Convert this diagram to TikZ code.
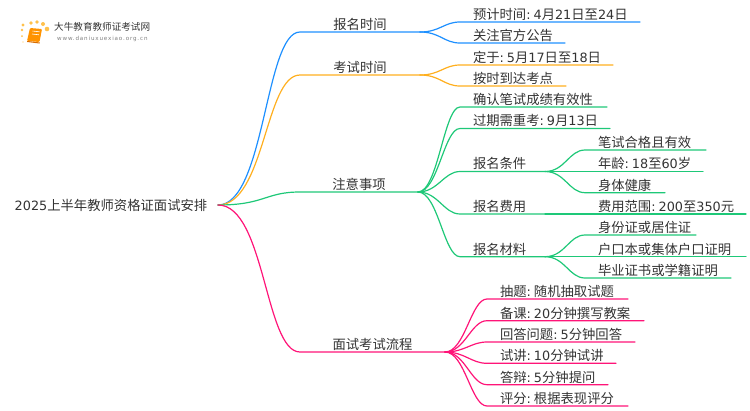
\documentclass[tikz,border=0pt]{standalone}
\usepackage{fontspec}
\setmainfont{Noto Sans CJK SC}
\newfontfamily\latn[Scale=0.96]{DejaVu Sans}
\newfontfamily\urlfont[LetterSpace=15]{DejaVu Sans}
\newcommand\mapcolon{{\latn:\hspace{3pt}}}
\usetikzlibrary{arrows.meta}
\definecolor{mapblue}{RGB}{30,144,255}
\definecolor{maporange}{RGB}{255,175,30}
\definecolor{mapgreen}{RGB}{30,200,120}
\definecolor{mappink}{RGB}{255,20,120}
\definecolor{maptext}{RGB}{51,51,51}
\tikzset{
	mapnode/.style={anchor=south west,inner xsep=0pt,inner ysep=1.5pt,outer sep=0pt,text=maptext,font=\fontsize{13.33}{15}\selectfont,minimum width=#1},
	leaf/.style={mapnode=#1,text width=#1,align=left,execute at begin node={\hspace*{13pt}}},
	wire/.style={line width=1.2pt,line cap=round},
}
\begin{document}
\begin{tikzpicture}[x=1pt,y=-1pt]
	\useasboundingbox (0,0) rectangle (750,410);
	
	% logo
	\foreach \dotx/\doty/\dotr in {23/42/0.7,22/36/1,22/30/1.3,23/25/1.6,31/23/1.9,37/22/1.9,43/24/2,47/29/2.3}
		\fill[orange!70!yellow,opacity=0.7] (\dotx,\doty) circle (\dotr);
	\fill[orange!85!yellow,rounded corners=1pt] (30,28) -- (42,29) -- (39.5,42) -- (27,41) -- cycle;
	\draw[white,line width=0.6pt] (32.5,31) -- (39.5,31.8) (32,34) -- (39,34.8);
	\draw[orange!85!black,line width=1pt,line cap=round] (27.5,41.5) -- (39.5,43);
	\node[anchor=west,inner sep=0pt,text=maptext,font=\fontsize{9.6}{11}\selectfont] (logotitle) at (54,27) {大牛教育教师证考试网};
	\node[anchor=west,inner sep=0pt,text=black!50,font=\urlfont\fontsize{5.6}{7}\selectfont] (logourl) at (57,39) {www.daniuxuexiao.org.cn};
	
	% root
	\node[anchor=east,inner xsep=0pt,inner ysep=1pt,outer sep=0pt,text=maptext,minimum width=214,font=\fontsize{13.33}{15}\selectfont] (root) at (218,205) {{\latn 2025}上半年教师资格证面试安排};
	
	% first level
	\node[mapnode=120] (time) at (300,32) {报名时间};
	\node[mapnode=120] (exam) at (300,75) {考试时间};
	\node[mapnode=118] (notes) at (300,192) {注意事项};
	\node[mapnode=145] (flow) at (300,352) {面试考试流程};
	
	% registration and exam dates
	\node[leaf=180] (date) at (460,22) {预计时间\mapcolon{\latn 4}月{\latn 21}日至{\latn 24}日};
	\node[leaf=105] (notice) at (460,43) {关注官方公告};
	\node[leaf=153] (fixed) at (460,65) {定于\mapcolon{\latn 5}月{\latn 17}日至{\latn 18}日};
	\node[leaf=106] (arrive) at (460,86) {按时到达考点};
	
	% notes
	\node[leaf=147] (valid) at (460,107) {确认笔试成绩有效性};
	\node[leaf=150] (expire) at (460,128.5) {过期需重考\mapcolon{\latn 9}月{\latn 13}日};
	\node[leaf=85] (cond) at (460,171.5) {报名条件};
	\node[leaf=85] (fee) at (460,214) {报名费用};
	\node[leaf=85] (docs) at (460,256.7) {报名材料};
	
	\node[leaf=121] (pass) at (585,150) {笔试合格且有效};
	\node[leaf=118] (age) at (585,171.5) {年龄\mapcolon{\latn 18}至{\latn 60}岁};
	\node[leaf=80] (health) at (585,192.7) {身体健康};
	\node[leaf=161] (range) at (585,214) {费用范围\mapcolon{\latn 200}至{\latn 350}元};
	\node[leaf=111] (idcard) at (585,235) {身份证或居住证};
	\node[leaf=161] (hukou) at (585,256.7) {户口本或集体户口证明};
	\node[leaf=146] (degree) at (585,278) {毕业证书或学籍证明};
	
	% interview steps
	\node[leaf=141] (draw) at (487,299) {抽题\mapcolon 随机抽取试题};
	\node[leaf=157] (prep) at (487,320.7) {备课\mapcolon{\latn 20}分钟撰写教案};
	\node[leaf=148] (answer) at (487,342) {回答问题\mapcolon{\latn 5}分钟回答};
	\node[leaf=129] (lecture) at (487,363.3) {试讲\mapcolon{\latn 10}分钟试讲};
	\node[leaf=121] (defend) at (487,384.7) {答辩\mapcolon{\latn 5}分钟提问};
	\node[leaf=141] (score) at (487,406) {评分\mapcolon 根据表现评分};
	
	% connectors
	\foreach \from/\to/\col in {root/time/mapblue,root/exam/maporange,root/notes/mapgreen,root/flow/mappink}
		\draw[wire,\col] (\from.east) .. controls +(47,0) and +(-35,0) .. (\to.south west) -- (\to.south east);
	\foreach \from/\to/\col in {time/date/mapblue,time/notice/mapblue,exam/fixed/maporange,exam/arrive/maporange,notes/valid/mapgreen,notes/expire/mapgreen,notes/cond/mapgreen,notes/fee/mapgreen,notes/docs/mapgreen,cond/pass/mapgreen,cond/age/mapgreen,cond/health/mapgreen,fee/range/mapgreen,docs/idcard/mapgreen,docs/hukou/mapgreen,docs/degree/mapgreen,flow/draw/mappink,flow/prep/mappink,flow/answer/mappink,flow/lecture/mappink,flow/defend/mappink,flow/score/mappink}
		\draw[wire,\col] (\from.south east) .. controls +(20,0) and +(-16,0) .. (\to.south west) -- (\to.south east);
\end{tikzpicture}
\end{document}
